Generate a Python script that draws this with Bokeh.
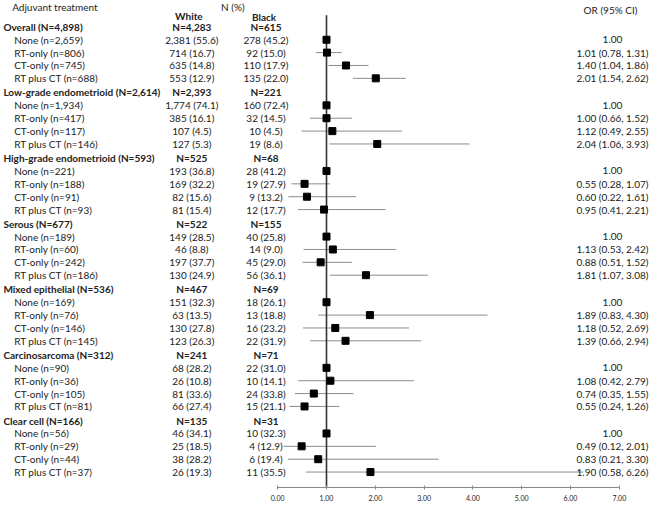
from bokeh.plotting import figure
from bokeh.models import ColumnDataSource, Range1d, FixedTicker, PrintfTickFormatter
from bokeh.core.properties import value
from bokeh.embed import file_html
from bokeh.resources import INLINE

# ---------------- data ----------------
groups = ["Overall", "Low-grade endometrioid", "High-grade endometrioid", "Serous",
          "Mixed epithelial", "Carcinosarcoma", "Clear cell"]
group_total = [4898, 2614, 593, 677, 536, 312, 166]
white_total = [4283, 2393, 525, 522, 467, 241, 135]
black_total = [615, 221, 68, 155, 69, 71, 31]

treatments = ["None", "RT-only", "CT-only", "RT plus CT"]
treat_n = [
    [2659, 806, 745, 688],
    [1934, 417, 117, 146],
    [221, 188, 91, 93],
    [189, 60, 242, 186],
    [169, 76, 146, 145],
    [90, 36, 105, 81],
    [56, 29, 44, 37],
]
white_n = [
    [2381, 714, 635, 553],
    [1774, 385, 107, 127],
    [193, 169, 82, 81],
    [149, 46, 197, 130],
    [151, 63, 130, 123],
    [68, 26, 81, 66],
    [46, 25, 38, 26],
]
white_pct = [
    [55.6, 16.7, 14.8, 12.9],
    [74.1, 16.1, 4.5, 5.3],
    [36.8, 32.2, 15.6, 15.4],
    [28.5, 8.8, 37.7, 24.9],
    [32.3, 13.5, 27.8, 26.3],
    [28.2, 10.8, 33.6, 27.4],
    [34.1, 18.5, 28.2, 19.3],
]
black_n = [
    [278, 92, 110, 135],
    [160, 32, 10, 19],
    [28, 19, 9, 12],
    [40, 14, 45, 56],
    [18, 13, 16, 22],
    [22, 10, 24, 15],
    [10, 4, 6, 11],
]
black_pct = [
    [45.2, 15.0, 17.9, 22.0],
    [72.4, 14.5, 4.5, 8.6],
    [41.2, 27.9, 13.2, 17.7],
    [25.8, 9.0, 29.0, 36.1],
    [26.1, 18.8, 23.2, 31.9],
    [31.0, 14.1, 33.8, 21.1],
    [32.3, 12.9, 19.4, 35.5],
]
odds_ratio = [
    [1.00, 1.01, 1.40, 2.01],
    [1.00, 1.00, 1.12, 2.04],
    [1.00, 0.55, 0.60, 0.95],
    [1.00, 1.13, 0.88, 1.81],
    [1.00, 1.89, 1.18, 1.39],
    [1.00, 1.08, 0.74, 0.55],
    [1.00, 0.49, 0.83, 1.90],
]
ci_low = [
    [None, 0.78, 1.04, 1.54],
    [None, 0.66, 0.49, 1.06],
    [None, 0.28, 0.22, 0.41],
    [None, 0.53, 0.51, 1.07],
    [None, 0.83, 0.52, 0.66],
    [None, 0.42, 0.35, 0.24],
    [None, 0.12, 0.21, 0.58],
]
ci_high = [
    [None, 1.31, 1.86, 2.62],
    [None, 1.52, 2.55, 3.93],
    [None, 1.07, 1.61, 2.21],
    [None, 2.42, 1.52, 3.08],
    [None, 4.30, 2.69, 2.94],
    [None, 2.79, 1.55, 1.26],
    [None, 2.01, 3.30, 6.26],
]
axis_ticks = [0, 1, 2, 3, 4, 5, 6, 7]
reference_or = 1.0

# ---------------- layout constants ----------------
GROUP_STEP = 5.1
Y_TOP = -2.05
Y_AXIS = 35.8
X_START, X_END = -5.68, 7.68
X_GROUP = -5.62
X_SUB = -5.40
X_WHITE = -1.76
X_BLACK = -0.24
X_OR = 6.86
FONT = value("Lato")
FS = value("10px")
TXT = "#222222"

# ---------------- build rows ----------------
hdr = dict(x=[], y=[], t=[])
hdr_w = dict(x=[], y=[], t=[])
sub = dict(x=[], y=[], t=[])
cells = dict(x=[], y=[], t=[])
ors = dict(x=[], y=[], t=[])
pts = dict(x=[], y=[])
cis = dict(x0=[], x1=[], y=[])

for g, name in enumerate(groups):
    y0 = g * GROUP_STEP
    hdr["x"].append(X_GROUP); hdr["y"].append(y0)
    hdr["t"].append(f"{name} (N={group_total[g]:,})")
    hdr_w["x"] += [X_WHITE, X_BLACK]; hdr_w["y"] += [y0, y0]
    hdr_w["t"] += [f"N={white_total[g]:,}", f"N={black_total[g]:,}"]
    for r, tr in enumerate(treatments):
        y = y0 + r + 1
        sub["x"].append(X_SUB); sub["y"].append(y)
        sub["t"].append(f"{tr} (n={treat_n[g][r]:,})")
        cells["x"] += [X_WHITE, X_BLACK]; cells["y"] += [y, y]
        cells["t"] += [f"{white_n[g][r]:,} ({white_pct[g][r]:.1f})",
                       f"{black_n[g][r]:,} ({black_pct[g][r]:.1f})"]
        o = odds_ratio[g][r]
        pts["x"].append(o); pts["y"].append(y)
        ors["x"].append(X_OR); ors["y"].append(y)
        if ci_low[g][r] is None:
            ors["t"].append(f"{o:.2f}")
        else:
            ors["t"].append(f"{o:.2f} ({ci_low[g][r]:.2f}, {ci_high[g][r]:.2f})")
            cis["x0"].append(ci_low[g][r]); cis["x1"].append(ci_high[g][r]); cis["y"].append(y)

p = figure(width=652, height=503, output_backend="svg", toolbar_location=None,
           x_range=Range1d(X_START, X_END), y_range=Range1d(Y_AXIS, Y_TOP),
           y_axis_location=None, min_border=0, min_border_left=0, min_border_right=0,
           min_border_top=0, min_border_bottom=0)
p.outline_line_color = None
p.xgrid.visible = False
p.ygrid.visible = False
p.background_fill_color = "white"
p.border_fill_color = "white"

ax = p.xaxis[0]
ax.ticker = FixedTicker(ticks=axis_ticks)
ax.formatter = PrintfTickFormatter(format="%.2f")
ax.bounds = (axis_ticks[0], axis_ticks[-1])
ax.axis_line_color = "#8a8a8a"
ax.major_tick_line_color = "#8a8a8a"
ax.major_tick_in = 2
ax.major_tick_out = 2
ax.minor_tick_line_color = None
ax.major_label_text_font = "Lato"
ax.major_label_text_font_size = "7px"
ax.major_label_text_color = TXT
ax.major_label_standoff = 5

# CI lines
p.segment(x0="x0", x1="x1", y0="y", y1="y", source=ColumnDataSource(cis),
          line_color="#8c8c8c", line_width=1)
# reference line
p.segment(x0=[reference_or], x1=[reference_or], y0=[-0.9], y1=[Y_AXIS],
          line_color="#333333", line_width=1.6)
# points
p.scatter(x="x", y="y", source=ColumnDataSource(pts), marker="square", size=7,
          fill_color="black", line_color="black")

# texts
p.text(x="x", y="y", text="t", source=ColumnDataSource(hdr), text_font=FONT,
       text_font_size=FS, text_font_style="bold", text_color=TXT,
       text_align="left", text_baseline="middle")
p.text(x="x", y="y", text="t", source=ColumnDataSource(hdr_w), text_font=FONT,
       text_font_size=FS, text_font_style="bold", text_color=TXT,
       text_align="center", text_baseline="middle")
p.text(x="x", y="y", text="t", source=ColumnDataSource(sub), text_font=FONT,
       text_font_size=FS, text_color=TXT, text_align="left", text_baseline="middle")
p.text(x="x", y="y", text="t", source=ColumnDataSource(cells), text_font=FONT,
       text_font_size=FS, text_color=TXT, text_align="center", text_baseline="middle")
p.text(x="x", y="y", text="t", source=ColumnDataSource(ors), text_font=FONT,
       text_font_size=FS, text_color=TXT, text_align="center", text_baseline="middle")

# column headers
p.text(x=[-5.44], y=[-1.55], text=["Adjuvant treatment"], text_font=FONT,
       text_font_size=FS, text_color=TXT, text_align="left", text_baseline="middle")
p.text(x=[-0.92], y=[-1.55], text=["N (%)"], text_font=FONT,
       text_font_size=FS, text_color=TXT, text_align="center", text_baseline="middle")
p.text(x=[-1.82, -0.28], y=[-0.85, -0.8], text=["White", "Black"], text_font=FONT,
       text_font_size=FS, text_font_style="bold", text_color=TXT,
       text_align="center", text_baseline="middle")
p.text(x=[6.82], y=[-1.3], text=["OR (95% CI)"], text_font=FONT,
       text_font_size=FS, text_color=TXT, text_align="center", text_baseline="middle")

open("out.html", "w").write(file_html(p, INLINE))
